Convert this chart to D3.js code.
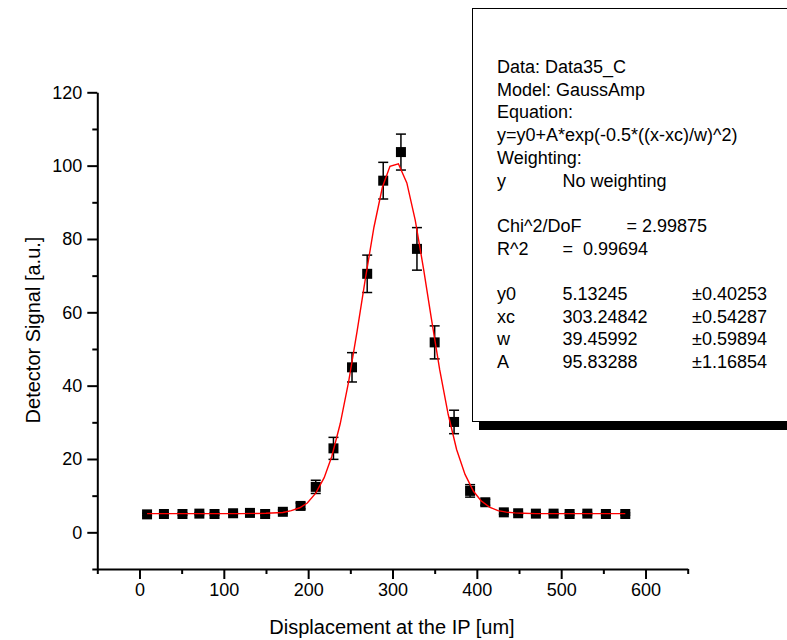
<!DOCTYPE html>
<html>
<head>
<meta charset="utf-8">
<script src="https://cdn.jsdelivr.net/npm/d3@7"></script>
<style>
  body { margin: 0; background: #fff; }
  svg text { font-family: "Liberation Sans", Arial, sans-serif; fill: #000; }
</style>
</head>
<body>
<div id="chart"></div>
<script>
// measured points (x in um, signal in a.u., error bar half height)
const xValues = [9, 29, 51, 71, 89, 111, 131, 149, 170, 191, 209, 230, 252, 270, 289, 310, 329, 350, 373, 392, 410, 432, 449, 470, 491, 510, 531, 553, 576];
const yValues = [4.9, 5.0, 5.0, 5.1, 5.0, 5.2, 5.3, 5.0, 5.6, 7.2, 12.4, 22.9, 45.0, 70.5, 95.9, 103.7, 77.3, 51.8, 30.1, 11.3, 8.2, 5.45, 5.2, 5.1, 5.1, 5.0, 5.1, 5.0, 5.0];
const yErrors = [0.3, 0.3, 0.3, 0.3, 0.3, 0.3, 0.3, 0.3, 0.5, 0.8, 1.8, 3.0, 4.0, 5.1, 5.0, 4.9, 5.8, 4.5, 3.2, 1.7, 0.8, 0.5, 0.3, 0.3, 0.3, 0.3, 0.3, 0.3, 0.3];

// red fit curve, vertices
const fitX = [9, 30, 60, 90, 120, 150, 170, 180, 190, 199, 209, 219, 228, 238, 248, 258, 268, 278, 288, 297, 307, 317, 327, 337, 346, 356, 366, 376, 386, 396, 405, 415, 425, 435, 445, 455, 470, 490, 520, 550, 576];
const fitY = [5.1, 5.1, 5.1, 5.1, 5.1, 5.2, 5.4, 5.9, 6.7, 8.0, 10.7, 14.9, 20.7, 29.6, 41.1, 54.8, 69.4, 83.2, 94.1, 99.8, 100.5, 95.3, 85.1, 71.6, 58.4, 44.3, 32.2, 22.6, 15.8, 11.2, 8.6, 6.9, 5.9, 5.5, 5.3, 5.2, 5.1, 5.1, 5.1, 5.1, 5.1];

const xMajor = [0, 100, 200, 300, 400, 500, 600];
const xMinor = [-50, 50, 150, 250, 350, 450, 550, 650];
const yMajor = [0, 20, 40, 60, 80, 100, 120];
const yMinor = [-10, 10, 30, 50, 70, 90, 110];

// fit report lines: [col1, col2, col3]
const reportHead = ["Data: Data35_C", "Model: GaussAmp", "Equation:", "y=y0+A*exp(-0.5*((x-xc)/w)^2)", "Weighting:"];
const reportRows = [
    ["y", "No weighting", ""],
    ["", "", ""],
    ["Chi^2/DoF", "", "= 2.99875"],
    ["R^2", "=  0.99694", ""],
    ["", "", ""],
    ["y0", "5.13245", "\u00b10.40253"],
    ["xc", "303.24842", "\u00b10.54287"],
    ["w", "39.45992", "\u00b10.59894"],
    ["A", "95.83288", "\u00b11.16854"]
];

var svgWidth = 787, svgHeight = 640;
var svg = d3.select("#chart").append("svg")
    .attr("width", svgWidth)
    .attr("height", svgHeight);

var x = d3.scaleLinear().domain([-50, 650]).range([97.3, 687.7]);
var y = d3.scaleLinear().domain([-10, 120]).range([569, 92.3]);

// axes: major ticks 10px, minor 5px
function styleAxis(g) {
    g.selectAll("path").attr("stroke", "#000").attr("stroke-width", 2);
    g.selectAll("line").attr("stroke", "#000").attr("stroke-width", 2);
    g.selectAll("text").style("font-size", "18px");
}

svg.append("g")
    .attr("transform", `translate(0, ${y(-10)})`)
    .call(d3.axisBottom(x).tickValues(xMinor).tickSize(5).tickSizeOuter(0).tickFormat(""))
    .call(styleAxis);
svg.append("g")
    .attr("transform", `translate(0, ${y(-10)})`)
    .call(d3.axisBottom(x).tickValues(xMajor).tickSize(10).tickSizeOuter(0).tickPadding(4).tickFormat(d3.format("d")))
    .call(styleAxis)
    .call(g => g.select(".domain").remove());

svg.append("g")
    .attr("transform", `translate(${x(-50)}, 0)`)
    .call(d3.axisLeft(y).tickValues(yMinor).tickSize(5).tickSizeOuter(0).tickFormat(""))
    .call(styleAxis);
svg.append("g")
    .attr("transform", `translate(${x(-50)}, 0)`)
    .call(d3.axisLeft(y).tickValues(yMajor).tickSize(10).tickSizeOuter(0).tickPadding(5).tickFormat(d3.format("d")))
    .call(styleAxis)
    .call(g => g.select(".domain").remove());

// axis titles
svg.append("text")
    .attr("x", 392)
    .attr("y", 634)
    .attr("text-anchor", "middle")
    .style("font-size", "20px")
    .text("Displacement at the IP [um]");

svg.append("text")
    .attr("transform", "rotate(-90)")
    .attr("x", -330)
    .attr("y", 40)
    .attr("text-anchor", "middle")
    .style("font-size", "20px")
    .text("Detector Signal [a.u.]");

// data
var points = xValues.map((v, i) => ({ x: v, y: yValues[i], e: yErrors[i] }));
var fitPoints = fitX.map((v, i) => ({ x: v, y: fitY[i] }));

// error bars
var bars = svg.append("g").attr("stroke", "#000").attr("stroke-width", 1.5);
bars.selectAll(".ebar")
    .data(points)
    .enter().append("line")
    .attr("x1", d => x(d.x)).attr("x2", d => x(d.x))
    .attr("y1", d => y(d.y - d.e)).attr("y2", d => y(d.y + d.e));
bars.selectAll(".ecapTop")
    .data(points)
    .enter().append("line")
    .attr("x1", d => x(d.x) - 5).attr("x2", d => x(d.x) + 5)
    .attr("y1", d => y(d.y + d.e)).attr("y2", d => y(d.y + d.e));
bars.selectAll(".ecapBottom")
    .data(points)
    .enter().append("line")
    .attr("x1", d => x(d.x) - 5).attr("x2", d => x(d.x) + 5)
    .attr("y1", d => y(d.y - d.e)).attr("y2", d => y(d.y - d.e));

// squares
svg.selectAll(".pt")
    .data(points)
    .enter().append("rect")
    .attr("class", "pt")
    .attr("x", d => x(d.x) - 5)
    .attr("y", d => y(d.y) - 5)
    .attr("width", 10)
    .attr("height", 10)
    .attr("fill", "#000");

// fit line on top
svg.append("path")
    .datum(fitPoints)
    .attr("fill", "none")
    .attr("stroke", "#ff0000")
    .attr("stroke-width", 1.4)
    .attr("d", d3.line().x(d => x(d.x)).y(d => y(d.y)));

// fit report box with drop shadow
var box = svg.append("g");
box.append("rect")
    .attr("x", 479).attr("y", 15)
    .attr("width", 330).attr("height", 415)
    .attr("fill", "#000");
box.append("rect")
    .attr("x", 472.5).attr("y", 8.5)
    .attr("width", 330).attr("height", 413)
    .attr("fill", "#fff")
    .attr("stroke", "#000")
    .attr("stroke-width", 1);

var lineH = 22.7;
reportHead.forEach(function(t, i) {
    box.append("text")
        .attr("x", 497)
        .attr("y", 73 + i * lineH)
        .style("font-size", "18px")
        .text(t);
});
var colX = [497, 562.5, 626.5];
reportRows.forEach(function(row, i) {
    row.forEach(function(t, j) {
        if (!t) return;
        var cx = colX[j];
        if (j === 2 && row[0] !== "Chi^2/DoF") cx = 692;
        box.append("text")
            .attr("x", cx)
            .attr("y", 73 + (i + 5) * lineH)
            .style("font-size", "18px")
            .style("white-space", "pre")
            .text(t);
    });
});
</script>
</body>
</html>
